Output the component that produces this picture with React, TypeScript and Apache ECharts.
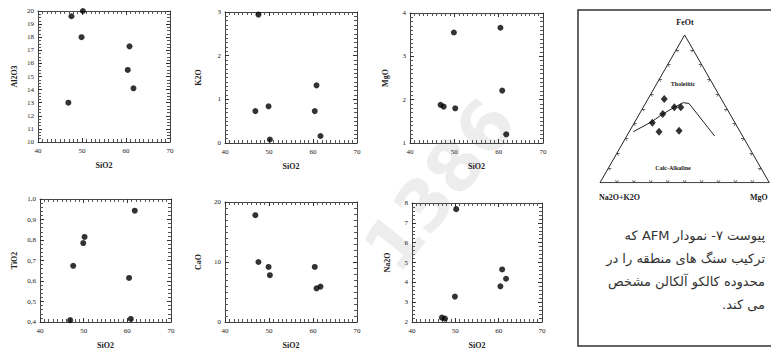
import React, { useEffect, useRef } from "react";
import * as echarts from "echarts";

// ---- data (7 samples) ----
const SIO2 = [46.9, 47.6, 49.9, 50.2, 60.4, 60.8, 61.7];
const AL2O3 = [13.0, 19.6, 18.0, 20.0, 15.5, 17.3, 14.1];
const K2O = [0.73, 2.94, 0.84, 0.08, 0.73, 1.32, 0.16];
const MGO = [1.88, 1.84, 3.55, 1.8, 3.66, 2.21, 1.2];
const TIO2 = [0.409, 0.674, 0.785, 0.815, 0.615, 0.415, 0.943];
const CAO = [17.8, 10.0, 9.18, 7.8, 9.18, 5.6, 5.9];
const NA2O = [2.22, 2.17, 3.28, 7.69, 3.8, 4.65, 4.18];

const X_TICKS = [40, 50, 60, 70];

// AFM ternary (percent)
const AFM_A = [33.7, 39.7, 48.8, 30.6, 26.8, 47.9, 35.7];
const AFM_F = [56.7, 46.5, 40.6, 51.0, 51.0, 34.5, 35.2];
const AFM_M = [9.6, 13.8, 10.6, 18.4, 22.2, 17.6, 29.1];

// Tholeiitic / Calc-alkaline boundary (percent)
const CURVE_A = [63.1, 48.8, 39.7, 30.6, 23.7, 20.6, 16.5];
const CURVE_F = [34.5, 41.3, 46.5, 51.0, 54.2, 53.6, 31.6];
const CURVE_M = [2.4, 9.9, 13.8, 18.4, 22.1, 25.8, 51.9];

const CAPTION = [
  "پیوست ۷- نمودار AFM که",
  "ترکیب سنگ های منطقه را در",
  "محدوده کالکو آلکالن مشخص",
  "می کند.",
];

const FONT = "'Liberation Serif', 'DejaVu Serif', serif";

type Panel = {
  name: string;
  values: number[];
  min: number;
  max: number;
  interval: number;
  minor: number;
  fmt?: (v: number) => string;
  grid: { left: number; top: number; width: number; height: number };
  yGap: number;
};

const PANELS: Panel[] = [
  { name: "Al2O3", values: AL2O3, min: 10, max: 20, interval: 1, minor: 4, grid: { left: 38, top: 11, width: 132, height: 131 }, yGap: 20 },
  { name: "K2O", values: K2O, min: 0, max: 3, interval: 1, minor: 10, grid: { left: 225, top: 12, width: 132, height: 131 }, yGap: 23 },
  { name: "MgO", values: MGO, min: 1, max: 4, interval: 1, minor: 10, grid: { left: 410, top: 13, width: 133, height: 130 }, yGap: 21 },
  { name: "TiO2", values: TIO2, min: 0.4, max: 1.0, interval: 0.1, minor: 5, fmt: (v) => v.toFixed(1).replace(".", ","), grid: { left: 40, top: 199, width: 131, height: 130 }, yGap: 22 },
  { name: "CaO", values: CAO, min: 0, max: 20, interval: 10, minor: 10, grid: { left: 225, top: 202, width: 132, height: 130 }, yGap: 23 },
  { name: "Na2O", values: NA2O, min: 2, max: 8, interval: 1, minor: 5, grid: { left: 412, top: 203, width: 130, height: 130 }, yGap: 21 },
];

const TERN_GRID = { left: 600, top: 35, width: 169.3, height: 147.7 };

function tern(a: number, f: number, m: number): [number, number] {
  const s = a + f + m;
  const F = f / s;
  const M = m / s;
  return [M + F / 2, F];
}

export default function App() {
  const ref = useRef<HTMLDivElement>(null);

  useEffect(() => {
    if (!ref.current) return;
    const chart = echarts.init(ref.current, null, { renderer: "svg" });

    const grids: any[] = [];
    const xAxes: any[] = [];
    const yAxes: any[] = [];
    const series: any[] = [];

    const labelStyle = { fontSize: 7, fontFamily: FONT, color: "#222" };
    const nameStyle = { fontSize: 8, fontFamily: FONT, color: "#222", fontWeight: "bold" };

    const axisCommon = (minor: number) => ({
      axisLine: { show: true, onZero: false, lineStyle: { color: "#444", width: 1 } },
      axisTick: { show: true, inside: true, length: 4, lineStyle: { color: "#333", width: 1 } },
      minorTick: { show: true, splitNumber: minor, length: 3, lineStyle: { color: "#555", width: 1 } },
      splitLine: { show: false },
    });

    PANELS.forEach((p, i) => {
      grids.push({ ...p.grid, containLabel: false, show: false });
      const xRange = { type: "value", gridIndex: i, min: X_TICKS[0], max: X_TICKS[X_TICKS.length - 1], interval: 10 };
      xAxes.push({
        ...xRange,
        position: "bottom",
        ...axisCommon(10),
        axisLabel: { ...labelStyle, margin: 5 },
        name: "SiO2",
        nameLocation: "middle",
        nameGap: 19,
        nameTextStyle: nameStyle,
      });
      xAxes.push({ ...xRange, position: "top", ...axisCommon(10), axisLabel: { show: false } });
      const yRange = { type: "value", gridIndex: i, min: p.min, max: p.max, interval: p.interval };
      yAxes.push({
        ...yRange,
        position: "left",
        ...axisCommon(p.minor),
        axisLabel: { ...labelStyle, margin: 4, formatter: p.fmt ? p.fmt : (v: number) => String(v) },
        name: p.name,
        nameLocation: "middle",
        nameGap: p.yGap,
        nameRotate: 90,
        nameTextStyle: nameStyle,
      });
      yAxes.push({ ...yRange, position: "right", ...axisCommon(p.minor), axisLabel: { show: false } });

      series.push({
        type: "scatter",
        xAxisIndex: 2 * i,
        yAxisIndex: 2 * i,
        symbol: "circle",
        symbolSize: 6,
        itemStyle: { color: "#000" },
        data: SIO2.map((s, k) => [s, p.values[k]]),
        z: 5,
      });
    });

    // ternary grid
    const ti = PANELS.length;
    grids.push({ ...TERN_GRID, show: false });
    xAxes.push({ type: "value", gridIndex: ti, min: 0, max: 1, show: false });
    yAxes.push({ type: "value", gridIndex: ti, min: 0, max: 1, show: false });
    const txi = xAxes.length - 1;
    const tyi = yAxes.length - 1;

    // triangle outline
    series.push({
      type: "line",
      xAxisIndex: txi,
      yAxisIndex: tyi,
      symbol: "none",
      lineStyle: { color: "#222", width: 1 },
      data: [tern(100, 0, 0), tern(0, 0, 100), tern(0, 100, 0), tern(100, 0, 0)],
      z: 3,
    });

    // tick marks on the three sides
    const t = 0.017;
    const tickLines: any[] = [];
    for (let k = 1; k <= 9; k++) {
      const b = tern(100 - k * 10, 0, k * 10);
      tickLines.push({ coords: [b, [b[0] + 0.5 * t, b[1] + t]] });
      tickLines.push({ coords: [b, [b[0] - 0.5 * t, b[1] + t]] });
      const l = tern(100 - k * 10, k * 10, 0);
      tickLines.push({ coords: [l, [l[0] + t, l[1]]] });
      tickLines.push({ coords: [l, [l[0] + 0.5 * t, l[1] - t]] });
      const r = tern(0, k * 10, 100 - k * 10);
      tickLines.push({ coords: [r, [r[0] - t, r[1]]] });
      tickLines.push({ coords: [r, [r[0] - 0.5 * t, r[1] - t]] });
    }
    series.push({
      type: "lines",
      coordinateSystem: "cartesian2d",
      xAxisIndex: txi,
      yAxisIndex: tyi,
      lineStyle: { color: "#444", width: 0.8, opacity: 1 },
      data: tickLines,
      z: 3,
    });

    // boundary curve
    series.push({
      type: "line",
      xAxisIndex: txi,
      yAxisIndex: tyi,
      symbol: "none",
      lineStyle: { color: "#222", width: 1 },
      data: CURVE_A.map((a, k) => tern(a, CURVE_F[k], CURVE_M[k])),
      z: 3,
    });

    // samples
    series.push({
      type: "scatter",
      xAxisIndex: txi,
      yAxisIndex: tyi,
      symbol: "diamond",
      symbolSize: [7, 8],
      itemStyle: { color: "#000" },
      data: AFM_A.map((a, k) => tern(a, AFM_F[k], AFM_M[k])),
      z: 5,
    });

    const tf = (size: number, bold = true) => `${bold ? "bold " : ""}${size}px ${FONT}`;

    const graphic: any[] = [
      {
        type: "text",
        x: 440,
        y: 185,
        rotation: 0.9,
        z: -10,
        silent: true,
        style: { text: "1386", font: "bold 70px 'DejaVu Sans', sans-serif", fill: "#ededed", align: "center", verticalAlign: "middle" },
      },
      {
        type: "rect",
        shape: { x: 578, y: 10, width: 230, height: 336 },
        style: { fill: "none", stroke: "#333", lineWidth: 1.5 },
        z: 1,
      },
      { type: "text", x: 685, y: 22, style: { text: "FeOt", font: tf(8), fill: "#222", align: "center", verticalAlign: "middle" } },
      { type: "text", x: 683, y: 84, style: { text: "Tholeiitic", font: tf(6), fill: "#222", align: "center", verticalAlign: "middle" } },
      { type: "text", x: 673, y: 168, style: { text: "Calc-Alkaline", font: tf(6), fill: "#222", align: "center", verticalAlign: "middle" } },
      { type: "text", x: 599, y: 197, style: { text: "Na2O+K2O", font: tf(8), fill: "#222", align: "left", verticalAlign: "middle" } },
      { type: "text", x: 750, y: 197, style: { text: "MgO", font: tf(8), fill: "#222", align: "left", verticalAlign: "middle" } },
    ];
    CAPTION.forEach((line, k) => {
      graphic.push({
        type: "text",
        x: 765,
        y: 235 + k * 23,
        style: {
          text: "\u202B" + line + "\u202C",
          font: "13px 'DejaVu Sans', sans-serif",
          fill: "#333",
          align: "right",
          verticalAlign: "middle",
        },
      });
    });

    chart.setOption({
      animation: false,
      backgroundColor: "#fff",
      grid: grids,
      xAxis: xAxes,
      yAxis: yAxes,
      series,
      graphic,
    });

    return () => chart.dispose();
  }, []);

  return (
    <div
      ref={ref}
      style={{ position: "absolute", left: 0, top: 0, width: 771, height: 350, background: "#fff" }}
    />
  );
}
